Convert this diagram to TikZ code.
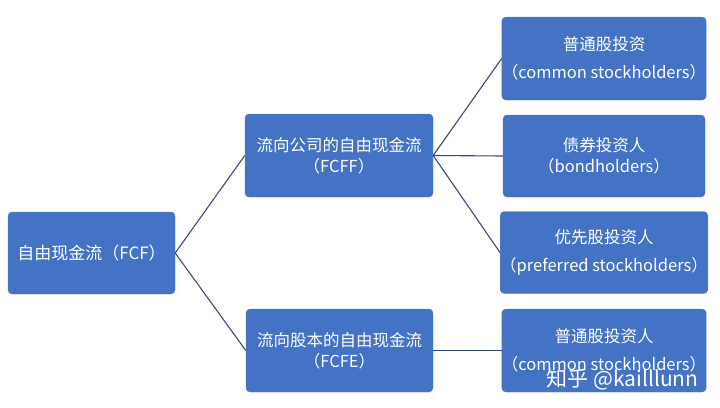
\documentclass[tikz,border=0pt]{standalone}
\usepackage{fontspec}
\setmainfont{Noto Sans CJK SC}
\definecolor{boxblue}{HTML}{4472C4}
\definecolor{boxline}{HTML}{5B84CC}
\definecolor{linkblue}{HTML}{3A4A78}
\tikzset{
  cashbox/.style={rectangle, rounded corners=4pt, fill=boxblue, draw=boxline,
    text=white, align=center, inner sep=0pt,
    font=\fontsize{16.5}{21}\selectfont},
  link/.style={draw=linkblue, line width=1.1pt}
}
\begin{document}
\begin{tikzpicture}[x=1pt,y=-1pt]
\useasboundingbox (0,0) rectangle (720,407);

\node[cashbox, minimum width=167pt, minimum height=82pt, font=\fontsize{17}{21}\selectfont] (fcf) at (91.5,253) {自由现金流（FCF）};
\node[cashbox, minimum width=188pt, minimum height=83pt] (fcff) at (339,155.5) {流向公司的自由现金流\\（FCFF）};
\node[cashbox, minimum width=187pt, minimum height=83pt] (fcfe) at (339.5,350.5) {流向股本的自由现金流\\（FCFE）};

\node[cashbox, minimum width=202pt, minimum height=83pt] (cs1) at (604,58.5) {普通股投资\\[7pt]（common stockholders）};
\node[cashbox, minimum width=202pt, minimum height=82pt] (bond) at (604,156) {债券投资人\\（bondholders）};
\node[cashbox, minimum width=202pt, minimum height=82pt] (pref) at (604,252.5) {优先股投资人\\[7pt]（preferred stockholders）};
\node[cashbox, minimum width=202pt, minimum height=83pt] (cs2) at (604,350.5) {普通股投资人\\[7pt]（common stockholders）};

\draw[link] (fcf.east) -- (fcff.west);
\draw[link] (fcf.east) -- (fcfe.west);
\draw[link] (fcff.east) -- (cs1.west);
\draw[link] (fcff.east) -- (bond.west);
\draw[link] (fcff.east) -- (pref.west);
\draw[link] (fcfe.east) -- (cs2.west);

\node[text=white, font=\fontsize{21}{24}\selectfont, anchor=east] (wmark) at (702,379) {知乎 @kailllunn};
\end{tikzpicture}
\end{document}
